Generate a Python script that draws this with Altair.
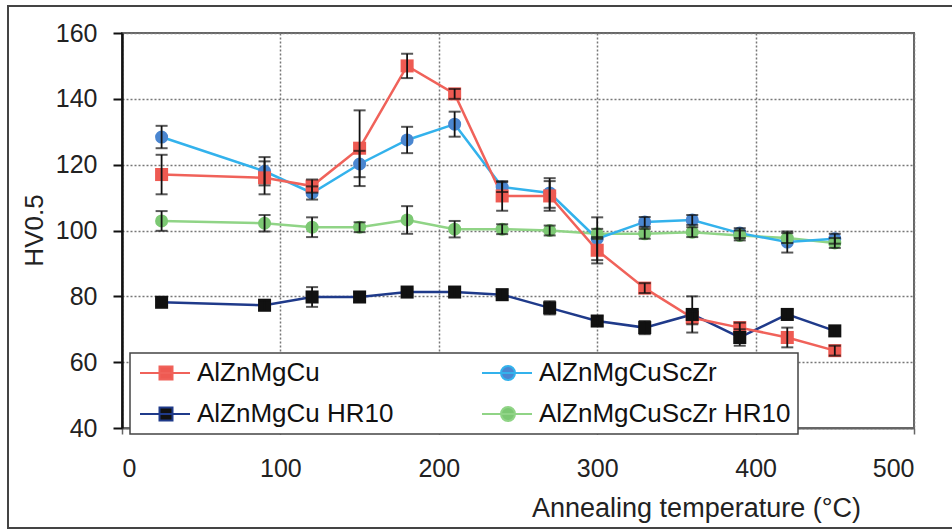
import altair as alt
import pandas as pd

temps = [25, 90, 120, 150, 180, 210, 240, 270, 300, 330, 360, 390, 420, 450]
# listed in legend order (column by column)
series_names = ["AlZnMgCu", "AlZnMgCu HR10", "AlZnMgCuScZr", "AlZnMgCuScZr HR10"]

hv_alznmgcu = [117, 116, 113.5, 125, 150, 141.5, 110.5, 110.5, 94, 82.5, 73.5, 70.5, 67.5, 63.5]
err_alznmgcu = [6, 5, 2, 11.5, 3.7, 1.5, 4.5, 4.5, 4, 1.5, 2, 1.5, 3, 1.5]
hv_hr10 = [78.2, 77.3, 79.8, 79.8, 81.3, 81.3, 80.5, 76.5, 72.5, 70.5, 74.5, 67.5, 74.5, 69.5]
err_hr10 = [1, 1.5, 3, 1.5, 1, 1.5, 1.5, 2, 1.5, 2, 5.5, 2.5, 1.5, 1.5]
hv_sczr = [128.4, 118, 111.4, 120.2, 127.5, 132.3, 113.2, 111.4, 97.5, 102.6, 103.2, 99.2, 96.5, 97.5]
err_sczr = [3.4, 4.3, 2, 4, 4, 3.8, 1.5, 4.5, 6.5, 1.5, 1.5, 1.5, 3.2, 1.5]
hv_sczr_hr10 = [102.9, 102.2, 101, 101, 103.2, 100.4, 100.4, 100, 99, 99, 99.5, 98.5, 97.7, 96.2]
err_sczr_hr10 = [3, 2.5, 3, 1.5, 4.2, 2.5, 1.5, 1.5, 1.5, 1.5, 1.5, 1.5, 1.5, 1.5]

values = [hv_alznmgcu, hv_hr10, hv_sczr, hv_sczr_hr10]
errors = [err_alznmgcu, err_hr10, err_sczr, err_sczr_hr10]

line_colors = ["#F0625A", "#1F3A8A", "#33B2EC", "#90D486"]
marker_colors = ["#EE5A52", "#111111", "#4A86D0", "#7CC873"]
square_series = ["AlZnMgCu", "AlZnMgCu HR10"]
circle_series = ["AlZnMgCuScZr", "AlZnMgCuScZr HR10"]

# legend symbols: a line segment with the marker in its middle
sq = "M-1,0H4M0.95,-0.65H2.25V0.65H0.95Z"
ci = "M-1,0H4M0.9,0A0.7,0.7 0 1,0 2.3,0A0.7,0.7 0 1,0 0.9,0Z"
legend_shapes = [sq, sq, ci, ci]

# draw order of the lines (later = on top)
draw_order = ["AlZnMgCu HR10", "AlZnMgCuScZr HR10", "AlZnMgCuScZr", "AlZnMgCu"]

rows = []
for name, vals, errs in zip(series_names, values, errors):
    for t, v, e in zip(temps, vals, errs):
        rows.append({"series": name, "temp": t, "hv": v, "lo": v - e, "hi": v + e})
df = pd.DataFrame(rows)

font = "Liberation Sans"

x_enc = alt.X(
    "temp:Q",
    scale=alt.Scale(domain=[0, 500], nice=False),
    axis=alt.Axis(
        values=[0, 100, 200, 300, 400, 500],
        title="Annealing temperature  (°C)",
        grid=True, gridDash=[2, 2], gridColor="#777", gridWidth=1.5,
        domainColor="#666", domainWidth=2,
        tickColor="#666", tickWidth=1.5, tickSize=6,
        labelFontSize=25, labelPadding=22, labelColor="#222",
        titleFontSize=27, titleFontWeight="normal", titleColor="#222",
        titleX=574, titleY=80, titleBaseline="middle", titleAlign="center",
    ),
)
y_enc = alt.Y(
    "hv:Q",
    scale=alt.Scale(domain=[40, 160], nice=False, zero=False),
    axis=alt.Axis(
        values=[40, 60, 80, 100, 120, 140, 160],
        title="HV0.5",
        grid=True, gridDash=[2, 2], gridColor="#777", gridWidth=1.5,
        domainColor="#111", domainWidth=2.5,
        tickColor="#111", tickWidth=2, tickSize=9,
        labelFontSize=25, labelPadding=16, labelColor="#222",
        titleFontSize=26, titleFontWeight="normal", titleColor="#222",
        titleX=-88, titleY=197, titleBaseline="middle", titleAlign="center",
    ),
)

def stroke_scale():
    return alt.Scale(domain=series_names, range=line_colors)

def fill_scale():
    return alt.Scale(domain=series_names, range=marker_colors)

frame = alt.Chart(pd.DataFrame({"k": [0]})).mark_rect(
    fill=None, stroke="#444", strokeWidth=2
).encode(x=alt.value(-114), x2=alt.value(850), y=alt.value(-27), y2=alt.value(495))

line_layers = [
    alt.Chart(df).transform_filter(alt.datum.series == name).mark_line(strokeWidth=2.5).encode(
        x=x_enc, y=y_enc,
        stroke=alt.Stroke("series:N", scale=stroke_scale(), legend=None),
    )
    for name in draw_order
]

squares = alt.Chart(df).transform_filter(
    alt.FieldOneOfPredicate(field="series", oneOf=square_series)
).mark_square(size=170, opacity=1).encode(
    x="temp:Q", y="hv:Q",
    fill=alt.Fill("series:N", scale=fill_scale(), legend=None),
)

circles = alt.Chart(df).transform_filter(
    alt.FieldOneOfPredicate(field="series", oneOf=circle_series)
).mark_circle(size=170, opacity=1).encode(
    x="temp:Q", y="hv:Q",
    fill=alt.Fill("series:N", scale=fill_scale(), legend=None),
)

err_rule = alt.Chart(df).mark_rule(color="#111", strokeWidth=1.8).encode(
    x="temp:Q", y="lo:Q", y2="hi:Q"
)
err_lo = alt.Chart(df).mark_tick(color="#111", thickness=2, size=12, orient="horizontal").encode(
    x="temp:Q", y="lo:Q"
)
err_hi = alt.Chart(df).mark_tick(color="#111", thickness=2, size=12, orient="horizontal").encode(
    x="temp:Q", y="hi:Q"
)

# invisible marks that only carry the legend
legend_layer = alt.Chart(df).mark_point(
    filled=True, size=400, strokeWidth=2, opacity=0
).encode(
    x="temp:Q", y="hv:Q",
    fill=alt.Fill("series:N", scale=fill_scale(), title=None),
    stroke=alt.Stroke("series:N", scale=stroke_scale(), title=None),
    shape=alt.Shape("series:N", scale=alt.Scale(domain=series_names, range=legend_shapes), title=None),
)

chart = alt.layer(
    frame, *line_layers, circles, squares, err_rule, err_lo, err_hi, legend_layer
).resolve_scale(
    fill="independent", stroke="independent", shape="independent"
).properties(
    width=792, height=395,
    padding={"left": 122, "top": 33, "right": 38, "bottom": 101},
    autosize=alt.AutoSizeParams(type="none"),
    background="white",
).configure_view(
    stroke="#666", strokeWidth=2
).configure_axis(
    labelFont=font, titleFont=font
).configure_legend(
    orient="none", legendX=8, legendY=320,
    columns=2, columnPadding=84, rowPadding=15, padding=7,
    fillColor="white", strokeColor="#444", strokeWidth=1.5,
    labelFont=font, labelFontSize=26, labelColor="#111", labelLimit=500,
    labelOffset=34, symbolSize=400, symbolStrokeWidth=2, symbolOpacity=1,
)

chart.save("out.html", embed_options={"renderer": "svg", "actions": False})
